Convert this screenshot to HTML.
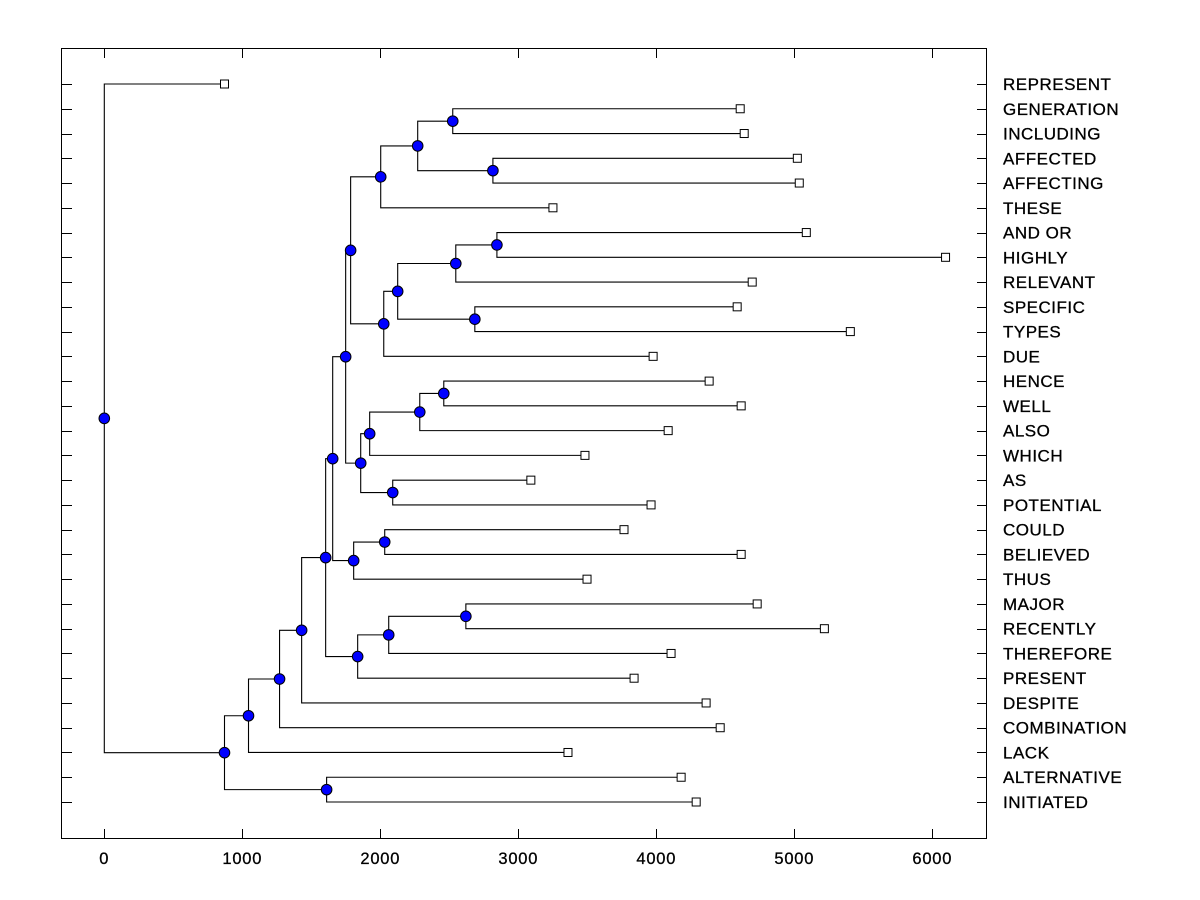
<!DOCTYPE html>
<html><head><meta charset="utf-8"><style>
html,body{margin:0;padding:0;background:#fff;}
svg{display:block;font-family:"Liberation Sans",Arial,sans-serif;}
</style></head><body>
<svg id="chart" width="1200" height="900" viewBox="0 0 1200 900" xmlns="http://www.w3.org/2000/svg">
<rect x="0" y="0" width="1200" height="900" fill="#fff"/>
<rect x="61.5" y="48.5" width="925" height="790" fill="none" stroke="#000" stroke-width="1"/>
<g id="marks"></g>
</svg>
<script>
const leafLabels = ["REPRESENT","GENERATION","INCLUDING","AFFECTED","AFFECTING","THESE","AND OR","HIGHLY","RELEVANT","SPECIFIC","TYPES","DUE","HENCE","WELL","ALSO","WHICH","AS","POTENTIAL","COULD","BELIEVED","THUS","MAJOR","RECENTLY","THEREFORE","PRESENT","DESPITE","COMBINATION","LACK","ALTERNATIVE","INITIATED"];
const leafValues = [871,4608,4637,5022,5036,3251,5087,6096,4695,4586,5406,3977,4383,4615,4086,3483,3091,3962,3766,4615,3498,4731,5218,4107,3839,4361,4463,3360,4180,4289];
// internal nodes: name, height, children (leaf index or node name)
const nodeNames = ["W","X","V","T","AB","Z","AA","Y","U","N","S","R","P","Q","O","K","M","L","G","J","I","H","F","E","D","B","C","A","root"];
const nodeHeights = [2525,2816,2271,2003,2845,2547,2685,2126,2025,1785,2460,2286,1923,2090,1858,1749,2032,1807,1655,2620,2061,1836,1604,1430,1270,1045,1611,871,0];
const nodeChildren = [[1,2],[3,4],["W","X"],["V",5],[6,7],["AB",8],[9,10],["Z","AA"],["Y",11],["T","U"],[12,13],["S",14],["R",15],[16,17],["P","Q"],["N","O"],[18,19],["M",20],["K","L"],[21,22],["J",23],["I",24],["G","H"],["F",25],["E",26],["D",27],[28,29],["B","C"],[0,"A"]];
const xTicks = [0,1000,2000,3000,4000,5000,6000];

const NS="http://www.w3.org/2000/svg";
const g=document.getElementById('marks');
const X0=104.3, PX=0.138, Y0=84, DY=(802-84)/29;
const xs=v=>X0+v*PX;
const ys=i=>Y0+i*DY;
function mk(t,a){const e=document.createElementNS(NS,t);for(const k in a)e.setAttribute(k,a[k]);g.appendChild(e);return e;}

xTicks.forEach(t=>{
  const x=Math.round(xs(t))+0.5;
  let e=mk('line',{x1:x,x2:x,y1:838,y2:829,stroke:'#000'});
  
  
  e=mk('line',{x1:x,x2:x,y1:49,y2:58,stroke:'#000'});
  
  
  e=mk('text',{x:xs(t),y:864,'text-anchor':'middle','font-size':'16.5','letter-spacing':'0.8','stroke':'#000','stroke-width':'0.3'});
  e.textContent=t;
  
  
});
leafLabels.forEach((l,i)=>{
  const y=Math.round(ys(i))+0.5;
  let e=mk('line',{x1:61,x2:72,y1:y,y2:y,stroke:'#000'});
  
  
  e=mk('line',{x1:977,x2:986,y1:y,y2:y,stroke:'#000'});
  
  
  e=mk('text',{x:1003,y:ys(i)+6,'font-size':'17','letter-spacing':'0.5','stroke':'#000','stroke-width':'0.3'});
  e.textContent=l;
  
  
});

const pos={};
leafValues.forEach((v,i)=>{pos[i]={x:xs(v),y:ys(i)};});
nodeNames.forEach((n,k)=>{
  const c=nodeChildren[k].map(ch=>pos[ch]);
  pos[n]={x:xs(nodeHeights[k]),y:(c[0].y+c[1].y)/2,kids:c};
});
nodeNames.forEach(n=>{
  const p=pos[n];const c=p.kids;
  let e=mk('polyline',{points:`${c[0].x},${c[0].y} ${p.x},${c[0].y} ${p.x},${c[1].y} ${c[1].x},${c[1].y}`,fill:'none',stroke:'#000','stroke-width':1.1});
  
  
});
leafValues.forEach((v,i)=>{
  let e=mk('rect',{x:pos[i].x-4,y:pos[i].y-4,width:8,height:8,fill:'#fff',stroke:'#000','stroke-width':1});
  
  
});
nodeNames.forEach(n=>{
  let e=mk('circle',{cx:pos[n].x,cy:pos[n].y,r:5.3,fill:'#0000ff',stroke:'#000','stroke-width':1});
  
  
});
</script>
</body></html>
